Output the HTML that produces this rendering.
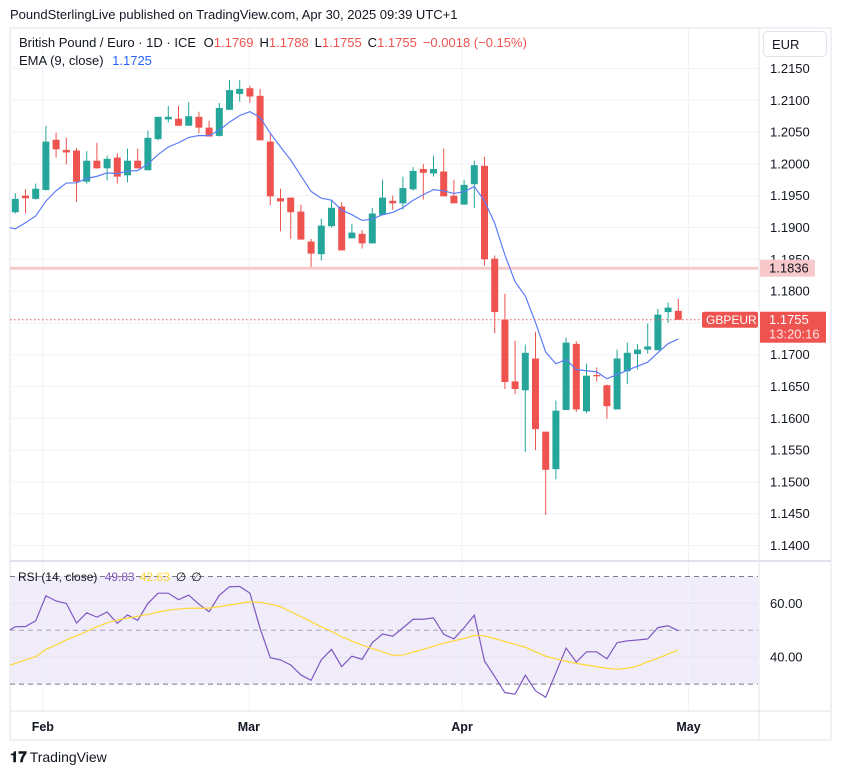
<!DOCTYPE html>
<html><head><meta charset="utf-8"><style>
body{margin:0;background:#fff;font-family:"Liberation Sans",sans-serif;}
#wrap{position:relative;width:841px;height:774px;overflow:hidden;}
svg{position:absolute;left:0;top:0}
</style></head><body>
<div id="wrap">
<svg id="chart" width="841" height="774"></svg>
</div>
<script>
const dates = ["Jan29","Jan30","Jan31","Feb3","Feb4","Feb5","Feb6","Feb7","Feb10","Feb11","Feb12","Feb13","Feb14","Feb17","Feb18","Feb19","Feb20","Feb21","Feb24","Feb25","Feb26","Feb27","Feb28","Mar3","Mar4","Mar5","Mar6","Mar7","Mar10","Mar11","Mar12","Mar13","Mar14","Mar17","Mar18","Mar19","Mar20","Mar21","Mar24","Mar25","Mar26","Mar27","Mar28","Mar31","Apr1","Apr2","Apr3","Apr4","Apr7","Apr8","Apr9","Apr10","Apr11","Apr14","Apr15","Apr16","Apr17","Apr18","Apr21","Apr22","Apr23","Apr24","Apr25","Apr28","Apr29","Apr30"];
const opens = [1.1924,1.1950,1.1945,1.1959,1.2038,1.2022,1.2021,1.1972,1.2005,1.1993,1.2010,1.1982,1.2005,1.1990,1.2039,1.2070,1.2071,1.2060,1.2074,1.2057,1.2044,1.2085,1.2110,1.2119,1.2107,1.2035,1.1946,1.1947,1.1925,1.1878,1.1858,1.1902,1.1933,1.1883,1.1890,1.1875,1.1920,1.1942,1.1938,1.1960,1.1992,1.1985,1.1988,1.1950,1.1936,1.1968,1.1997,1.1851,1.1755,1.1658,1.1644,1.1694,1.1579,1.1520,1.1613,1.1717,1.1611,1.1668,1.1652,1.1614,1.1674,1.1701,1.1708,1.1707,1.1767,1.1769];
const highs = [1.1954,1.1960,1.1969,1.2060,1.2049,1.2041,1.2025,1.2020,1.2033,1.2013,1.2017,1.2024,1.2024,1.2052,1.2074,1.2091,1.2091,1.2097,1.2082,1.2068,1.2096,1.2132,1.2132,1.2123,1.2118,1.2049,1.1961,1.1947,1.1936,1.1882,1.1914,1.1944,1.1940,1.1906,1.1896,1.1931,1.1975,1.1950,1.1980,1.1995,1.2000,1.2013,1.2024,1.1975,1.1975,1.2005,1.2011,1.1856,1.1796,1.1722,1.1716,1.1736,1.1579,1.1628,1.1727,1.1721,1.1686,1.1680,1.1653,1.1708,1.1719,1.1717,1.1749,1.1772,1.1782,1.1788];
const lows = [1.1922,1.1922,1.1944,1.1958,1.2010,1.1999,1.1940,1.1969,1.1993,1.1974,1.1969,1.1971,1.1993,1.1990,1.2037,1.2065,1.2060,1.2060,1.2048,1.2043,1.2043,1.2085,1.2098,1.2096,1.2037,1.1935,1.1894,1.1882,1.1881,1.1838,1.1848,1.1900,1.1864,1.1883,1.1867,1.1875,1.1920,1.1928,1.1928,1.1958,1.1944,1.1980,1.1949,1.1938,1.1936,1.1931,1.1840,1.1734,1.1646,1.1638,1.1547,1.1550,1.1448,1.1504,1.1613,1.1610,1.1608,1.1658,1.1599,1.1614,1.1654,1.1677,1.1702,1.1707,1.1750,1.1755];
const closes = [1.1945,1.1946,1.1961,1.2035,1.2023,1.2018,1.1972,1.2005,1.1993,1.2008,1.1980,1.2005,1.1993,1.2041,1.2074,1.2074,1.2060,1.2075,1.2057,1.2043,1.2088,1.2116,1.2118,1.2106,1.2037,1.1949,1.1941,1.1924,1.1881,1.1859,1.1903,1.1931,1.1864,1.1892,1.1875,1.1922,1.1947,1.1938,1.1962,1.1989,1.1986,1.1992,1.1949,1.1938,1.1967,1.1998,1.1850,1.1767,1.1657,1.1646,1.1703,1.1583,1.1519,1.1612,1.1719,1.1614,1.1667,1.1666,1.1619,1.1694,1.1703,1.1708,1.1713,1.1763,1.1774,1.1755];
const emaSeed = 1.1886;
const rsiValues = [51.3,51.4,53.5,62.8,60.9,60.0,52.7,56.5,54.9,56.8,52.6,55.7,53.7,60.0,63.8,63.8,61.4,63.1,59.7,56.9,63.0,66.2,66.3,63.8,50.7,39.8,39.0,37.1,33.4,31.4,39.0,42.9,36.5,40.4,39.2,45.4,48.6,47.8,50.9,54.1,54.1,54.6,48.5,46.8,51.0,55.6,38.6,32.8,26.8,26.3,33.3,27.5,25.1,34.2,43.4,38.2,42.0,42.0,39.4,45.4,46.1,46.4,46.8,51.0,51.7,49.8];
const rsiMA = [37.7,39.0,40.2,42.9,44.6,46.4,48.0,49.6,51.3,52.8,53.8,54.5,55.2,55.9,56.8,57.5,57.9,58.2,58.2,58.2,58.8,59.4,60.0,60.6,60.4,59.7,58.8,56.9,55.1,53.2,51.3,49.6,47.6,46.0,44.5,43.2,42.0,40.7,40.8,41.9,42.9,44.1,45.2,46.1,47.0,48.1,47.9,46.9,45.8,44.8,43.7,42.0,40.4,39.4,38.5,37.7,37.1,36.5,35.9,35.5,35.9,36.7,38.3,39.6,41.2,42.6];
const priceTicks = [1.2150,1.2100,1.2050,1.2000,1.1950,1.1900,1.1850,1.1800,1.1750,1.1700,1.1650,1.1600,1.1550,1.1500,1.1450,1.1400];
const rsiTicks = [60,40];
const monthLabels = ["Feb","Mar","Apr","May"];
const monthIdx = [2.7,22.9,43.8,66];
const hLine = 1.1836;

const NS="http://www.w3.org/2000/svg";
const svg=document.getElementById('chart');
function xOf(i){return 15.3+10.2*i;}
function yOf(p){return 68.5+(1.2150-p)*6360;}
function rY(v){return 630.3-(v-50)*2.69;}
function el(tag,attrs,parent){const e=document.createElementNS(NS,tag);for(const k in attrs)e.setAttribute(k,attrs[k]);(parent||svg).appendChild(e);return e;}
function txt(s,x,y,attrs){const t=el('text',Object.assign({x:x,y:y,'font-family':'Liberation Sans, sans-serif','font-size':13,fill:'#131722'},attrs||{}));t.textContent=s;return t;}

let f=el('rect',{x:10,y:28,width:821,height:712,fill:'none',stroke:'#e0e3eb'});

let band=el('rect',{x:10,y:rY(70),width:748,height:rY(30)-rY(70),fill:'#f1ecf9'});

priceTicks.forEach(p=>{const l=el('line',{x1:10,x2:758,y1:yOf(p),y2:yOf(p),stroke:'#f0f3fa'});
});
monthIdx.forEach(i=>{const l=el('line',{x1:xOf(i),x2:xOf(i),y1:29,y2:711,stroke:'#f0f3fa'});
});
rsiTicks.forEach(v=>{const l=el('line',{x1:10,x2:758,y1:rY(v),y2:rY(v),stroke:'#e6e1f2'});
});
[70,50,30].forEach(v=>{const l=el('line',{x1:10,x2:758,y1:rY(v),y2:rY(v),stroke:v==50?'#a9a5b3':'#787b86','stroke-dasharray':'5,4'});
});
let s1=el('line',{x1:10,x2:831,y1:561,y2:561,stroke:'#e0e3eb',"stroke-width":2});

let s2=el('line',{x1:10,x2:831,y1:711,y2:711,stroke:'#e0e3eb'});

let s3=el('line',{x1:759,x2:759,y1:28,y2:740,stroke:'#e0e3eb'});


let hl=el('line',{x1:10,x2:758,y1:yOf(hLine),y2:yOf(hLine),stroke:'#f8c9cb','stroke-width':3});


dates.forEach((d,i)=>{
  const up=closes[i]>=opens[i];const c=up?'#26a69a':'#ef5350';const x=xOf(i);
  const g=el('g',{});
  
  
  el('line',{x1:x,x2:x,y1:yOf(highs[i]),y2:yOf(lows[i]),stroke:c,'stroke-width':1},g);
  const top=yOf(Math.max(opens[i],closes[i])),bot=yOf(Math.min(opens[i],closes[i]));
  el('rect',{x:x-3.5,y:top,width:7,height:Math.max(1,bot-top),fill:c},g);
});
let ema=emaSeed,pts=[];const k=2/10;
closes.forEach((c,i)=>{ema=ema+k*(c-ema);pts.push(xOf(i)+','+yOf(ema));});
let emaStart='10,'+yOf(emaSeed+0.2*(closes[0]-emaSeed)+0.0002);
let emaL=el('polyline',{points:emaStart+' '+pts.join(' '),fill:'none',stroke:'#5b7cf6','stroke-width':1.2});


const last=closes[closes.length-1];
let cp=el('line',{x1:10,x2:700,y1:yOf(last),y2:yOf(last),stroke:'#ef5350','stroke-dasharray':'1.5,2.5'});


let rl=el('polyline',{points:'10,'+rY(50.2)+' '+rsiValues.map((v,i)=>xOf(i)+','+rY(v)).join(' '),fill:'none',stroke:'#7e57c2','stroke-width':1.2});

let ml=el('polyline',{points:'10,'+rY(37.0)+' '+rsiMA.map((v,i)=>xOf(i)+','+rY(v)).join(' '),fill:'none',stroke:'#fdd835','stroke-width':1.2});


priceTicks.forEach(p=>{if(p===1.1750)return;const t=txt(p.toFixed(4),770,yOf(p)+4.5);
});
rsiTicks.forEach(v=>{const t=txt(v.toFixed(2),770,rY(v)+4.5);
});
let eb=el('rect',{x:763.5,y:31.5,width:63,height:25,rx:4,fill:'#fff',stroke:'#e0e3eb'});

let et=txt('EUR',772,49);
let lb=el('rect',{x:760,y:yOf(hLine)-8.5,width:55,height:17,fill:'#f8c9cb'});

let lt=txt(hLine.toFixed(4),769,yOf(hLine)+4.5);
const cy=yOf(last);
let gb=el('rect',{x:702,y:cy-8,width:56,height:16,rx:2,fill:'#ef5350'});

let gt=txt('GBPEUR',706,cy+4.5,{fill:'#fff','font-size':12});
let pb=el('rect',{x:760,y:cy-8,width:66,height:31,fill:'#ef5350'});

let pt=txt(last.toFixed(4),769,cy+4.5,{fill:'#fff'});
let ct=txt('13:20:16',769,cy+19,{fill:'#fde3e3'});

monthLabels.forEach((m,j)=>{const t=txt(m,xOf(monthIdx[j]),731,{'text-anchor':'middle','font-weight':'bold','font-size':12.5});
});

let h=txt('PoundSterlingLive published on TradingView.com, Apr 30, 2025 09:39 UTC+1',10,19);

let leg=el('text',{x:19,y:47,'font-family':'Liberation Sans, sans-serif','font-size':13,fill:'#131722'});

leg.innerHTML='British Pound / Euro · 1D · ICE  <tspan dx="4">O</tspan><tspan fill="#ef5350">1.1769</tspan><tspan dx="6">H</tspan><tspan fill="#ef5350">1.1788</tspan><tspan dx="6">L</tspan><tspan fill="#ef5350">1.1755</tspan><tspan dx="6">C</tspan><tspan fill="#ef5350">1.1755</tspan><tspan dx="6" fill="#ef5350">−0.0018 (−0.15%)</tspan>';
let el2=el('text',{x:19,y:65,'font-family':'Liberation Sans, sans-serif','font-size':13,fill:'#131722'});

el2.innerHTML='EMA (9, close) <tspan dx="5" fill="#2962ff">1.1725</tspan>';
let rt=el('text',{x:18,y:581,'font-family':'Liberation Sans, sans-serif','font-size':12,fill:'#131722'});

rt.innerHTML='RSI (14, close) <tspan dx="4" fill="#7e57c2">49.83</tspan><tspan dx="5" fill="#fdd835">42.63</tspan><tspan dx="6">∅</tspan><tspan dx="5">∅</tspan>';
let lg=el('text',{x:10,y:762,'font-family':'Liberation Sans, sans-serif','font-size':14,fill:'#131722'});

lg.innerHTML='<tspan font-weight="bold" font-size="15">𝟏𝟕</tspan><tspan dx="3">TradingView</tspan>';
</script>
</body></html>
